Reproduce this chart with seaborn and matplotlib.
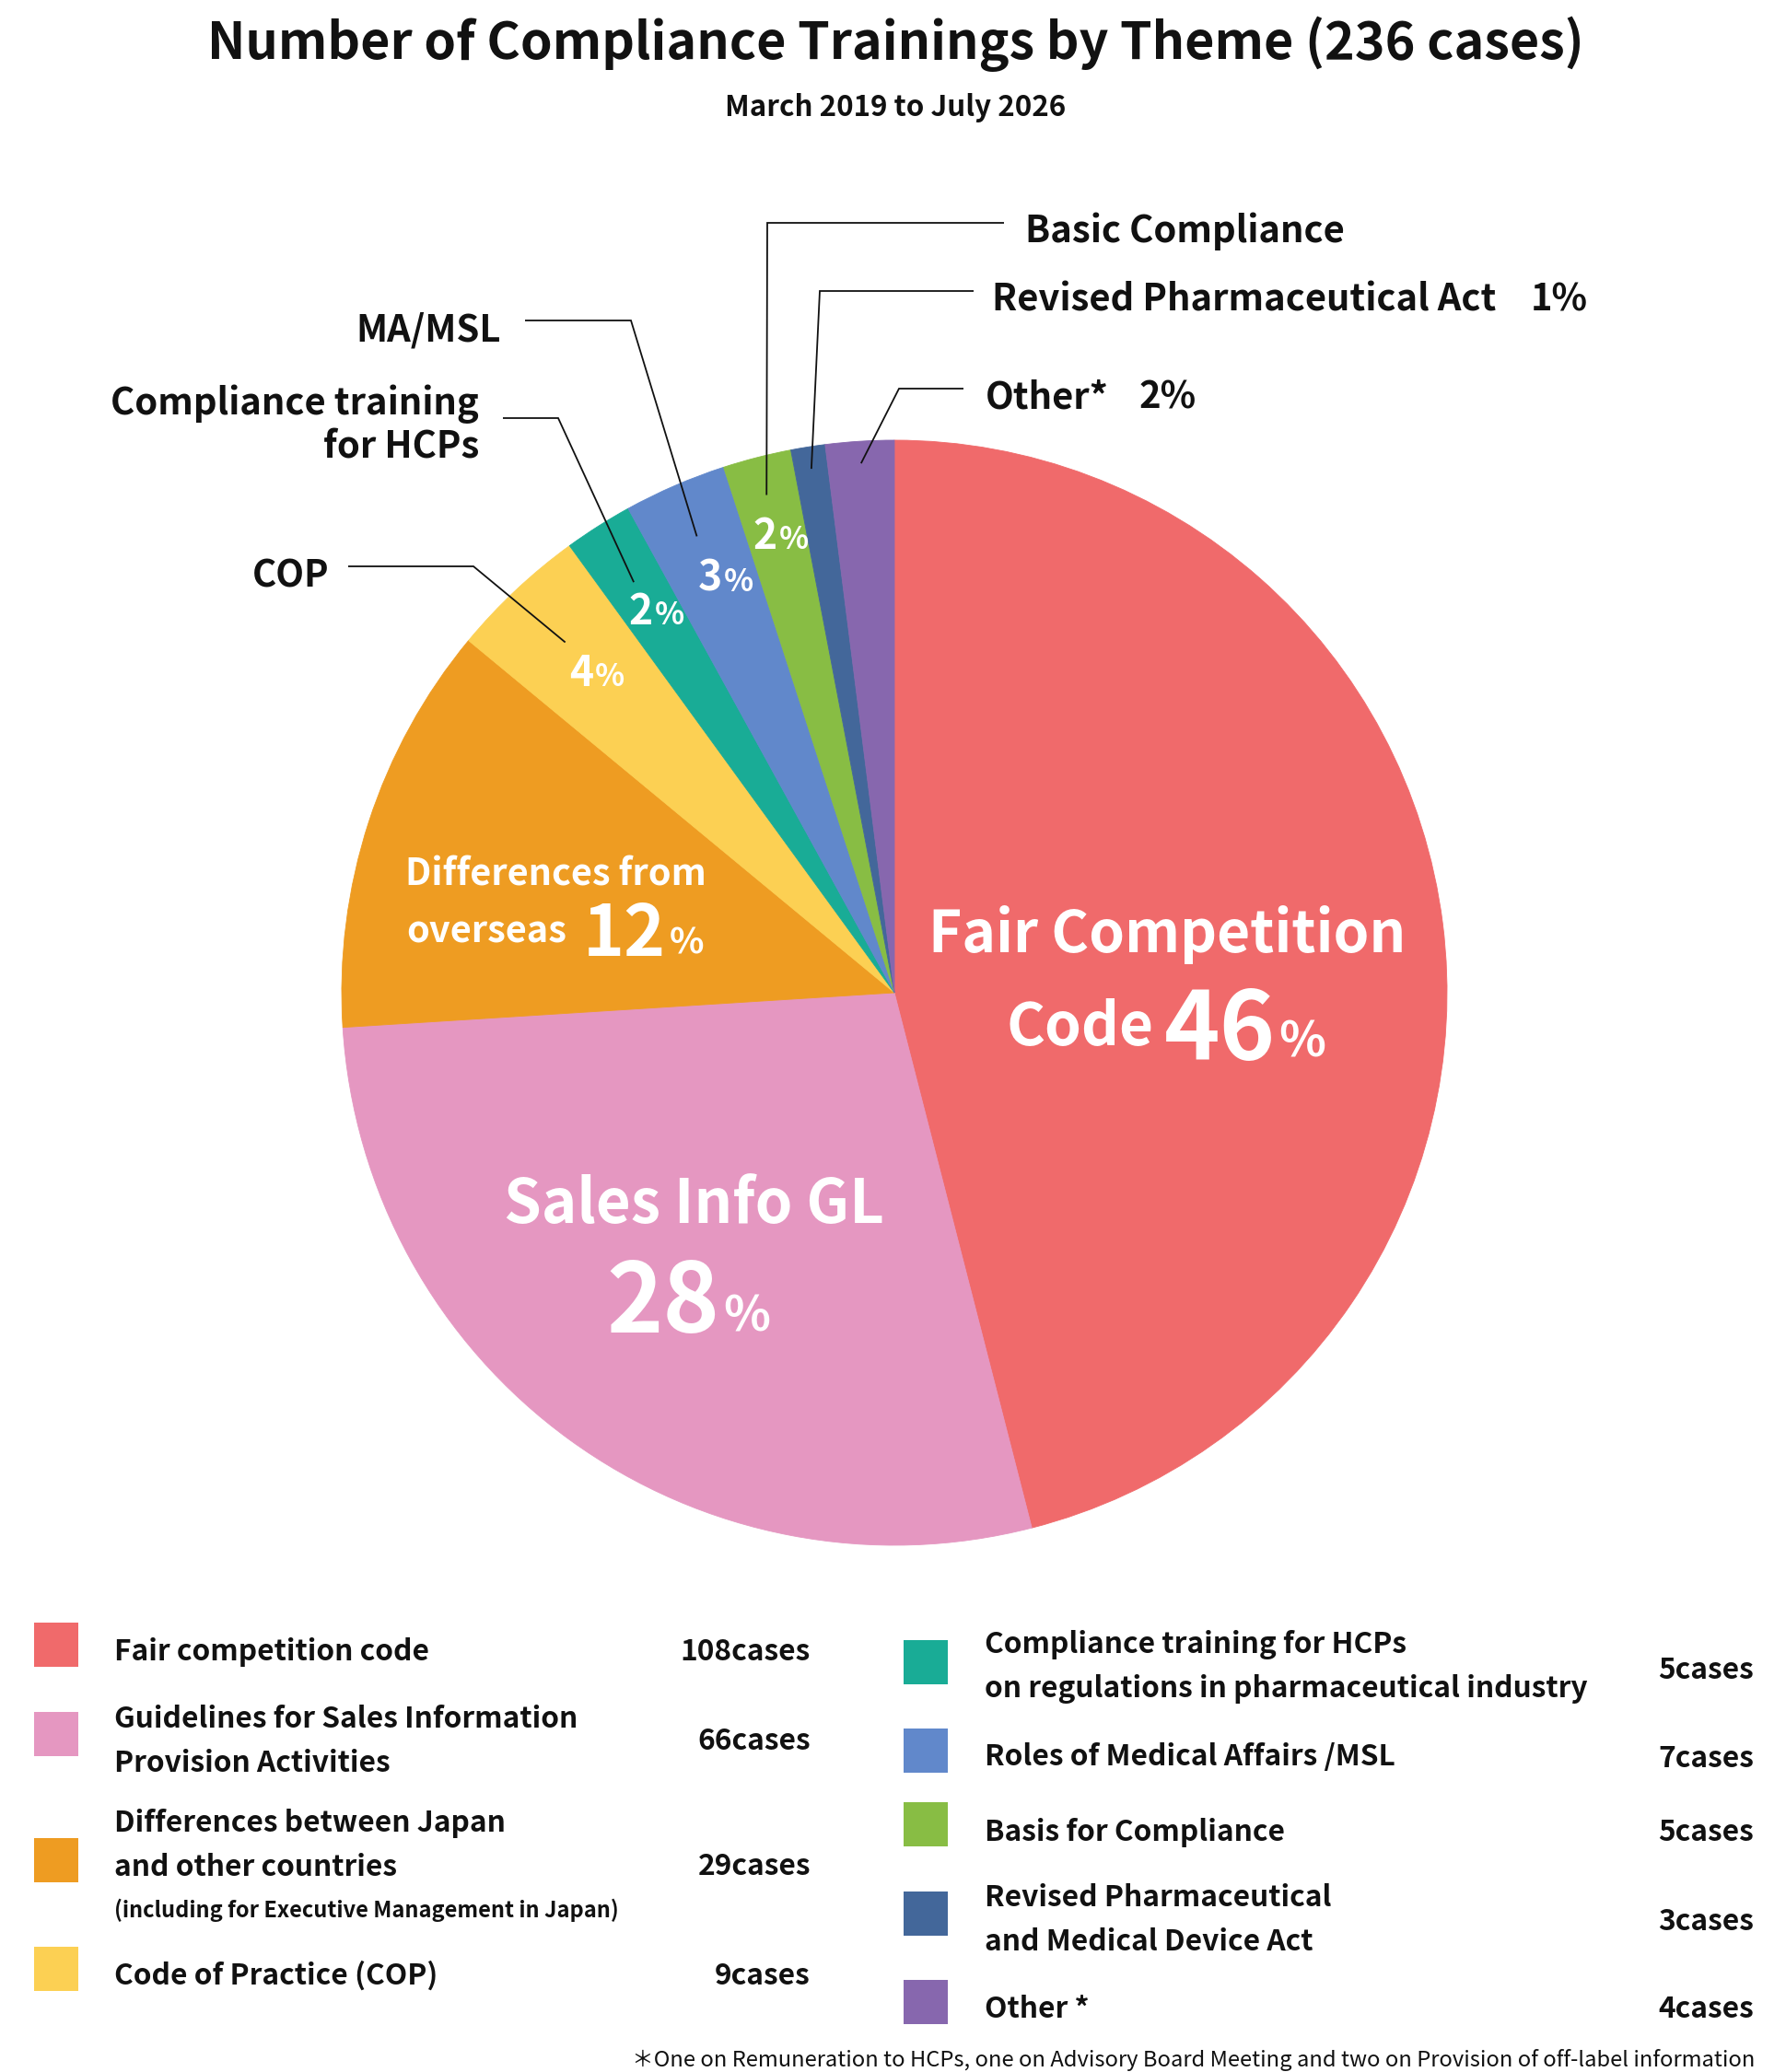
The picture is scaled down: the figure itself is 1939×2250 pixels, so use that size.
import numpy as np
import matplotlib
matplotlib.use("Agg")
import matplotlib.pyplot as plt
from matplotlib.patches import Rectangle
import seaborn as sns

# ---------------- data ----------------
legend_labels = [
    "Fair competition code",
    "Guidelines for Sales Information\nProvision Activities",
    "Differences between Japan\nand other countries",
    "Code of Practice (COP)",
    "Compliance training for HCPs\non regulations in pharmaceutical industry",
    "Roles of Medical Affairs /MSL",
    "Basis for Compliance",
    "Revised Pharmaceutical\nand Medical Device Act",
    "Other *",
]
cases = [108, 66, 29, 9, 5, 7, 5, 3, 4]
outside_labels = ["", "", "", "COP", "Compliance training\nfor HCPs", "MA/MSL",
                  "Basic Compliance", "Revised Pharmaceutical Act", "Other*"]
colors_hex = ["#F06A6B", "#E597C1", "#EE9C22", "#FCD053", "#19AC96",
              "#6188CB", "#88BD44", "#43679A", "#8767AE"]
title_text = "Number of Compliance Trainings by Theme"
subtitle_text = "March 2019 to July 2026"
note_text = "(including for Executive Management in Japan)"
footnote_text = ("＊One on Remuneration to HCPs, one on Advisory Board Meeting "
                 "and two on Provision of off-label information")
case_suffix = "cases"

total = sum(cases)
pcts = [int(round(100 * v / total)) for v in cases]   # 46, 28, 12, 4, 2, 3, 2, 1, 2

# ---------------- style ----------------
sns.set_theme(style="white")
palette = sns.color_palette(colors_hex)
plt.rcParams['font.family'] = ['Noto Sans CJK JP', 'DejaVu Sans']
plt.rcParams['font.weight'] = 'bold'

W, H = 1940, 2250
fig = plt.figure(figsize=(W / 100, H / 100), dpi=100)
fig.patch.set_facecolor("white")

# pie geometry (pixels) – wedges sized by the rounded shares, as in the original
CX, CY, R = 971, 1078, 600
pa = fig.add_axes([(CX - R) / W, (H - CY - R) / H, 2 * R / W, 2 * R / H])
wedges, _ = pa.pie(pcts, colors=palette, startangle=90, counterclock=False, radius=1)
for w in wedges:
    w.set_edgecolor(w.get_facecolor())
    w.set_linewidth(0.6)
pa.set_xlim(-1, 1)
pa.set_ylim(-1, 1)
pa.set_aspect("equal")
pa.axis("off")

ov = fig.add_axes([0, 0, 1, 1], zorder=5)
ov.set_xlim(0, W)
ov.set_ylim(H, 0)
ov.axis("off")
ov.patch.set_alpha(0)

PX = 72 / 100  # pt per px
INK = "#111111"


def txt(x, y, s, size, ha="left", va="baseline", color=INK, weight="bold", **kw):
    ov.text(x, y, s, fontsize=size, ha=ha, va=va, color=color,
            fontweight=weight, **kw)


def txt_c(x, yc, s, size, ha="left", color=INK, weight="bold"):
    # place so that visual (cap) centre sits at yc
    cap = 0.733 * size / PX
    txt(x, yc + cap / 2, s, size, ha=ha, color=color, weight=weight)


# mid angles of wedges
ptot = sum(pcts)
cum = np.cumsum(pcts)
mids = 90 - 360 * (cum - np.array(pcts) / 2) / ptot


def polar(theta, frac):
    t = np.deg2rad(theta)
    return CX + frac * R * np.cos(t), CY - frac * R * np.sin(t)


# ---------------- titles ----------------
txt(972, 64, f"{title_text} ({total} cases)", 40, ha="center")
txt(972, 126, subtitle_text, 22.5, ha="center")

# ---------------- inside labels ----------------
WHITE = "white"
txt(1267, 1034, "Fair Competition", 44.8, ha="center", color=WHITE)
txt(1253, 1135, "Code", 46, ha="right", color=WHITE)
txt(1385, 1151, f"{pcts[0]}", 74, ha="right", color=WHITE)
txt(1388, 1148, "%", 38, ha="left", color=WHITE)

txt(753, 1328, "Sales Info GL", 47, ha="center", color=WHITE)
txt(781, 1447, f"{pcts[1]}", 75, ha="right", color=WHITE)
txt(785, 1445, "%", 38, ha="left", color=WHITE)

txt(603, 962, "Differences from", 28.6, ha="center", color=WHITE)
txt(441, 1023, "overseas", 28.6, ha="left", color=WHITE)
txt(723, 1038, f"{pcts[2]}", 55, ha="right", color=WHITE)
txt(727, 1036, "%", 28, ha="left", color=WHITE)

# small wedge percentages (split x, baseline)
small_pos = {3: (644, 745), 4: (709, 678), 5: (784, 642), 6: (844, 596)}
for i, (sx, by) in small_pos.items():
    txt(sx, by, f"{pcts[i]}", 32, ha="right", color=WHITE)
    txt(sx + 2, by, "%", 24, ha="left", color=WHITE)

# ---------------- leader lines + outside labels ----------------
# idx: (radial fraction, elbow, line end)
leaders = {
    3: (0.87, (514, 615), (378, 615)),
    4: (0.88, (606, 454), (546, 454)),
    5: (0.90, (685, 348), (570, 348)),
    6: (0.93, (833, 242), (1090, 242)),
    7: (0.96, (890, 316), (1057, 316)),
    8: (0.96, (976, 422), (1046, 422)),
}
for i, (frac, elbow, end) in leaders.items():
    ax_, ay_ = polar(mids[i], frac)
    ov.plot([ax_, elbow[0], end[0]], [ay_, elbow[1], end[1]],
            color=INK, lw=1.3, solid_capstyle="butt", solid_joinstyle="miter")

OS = 28.8
txt(358, 637, outside_labels[3], OS, ha="right")
l1, l2 = outside_labels[4].split("\n")
txt(520, 450, l1, OS, ha="right")
txt(520, 498, l2, OS, ha="right")
txt(544, 370, outside_labels[5], OS, ha="right")
txt(1113, 263, outside_labels[6], OS, ha="left")
txt(1077, 337, outside_labels[7], OS, ha="left")
txt(1662, 337, f"{pcts[7]}%", OS, ha="left")
txt(1070, 443, outside_labels[8], OS, ha="left")
txt(1237, 443, f"{pcts[8]}%", OS, ha="left")

# ---------------- legend ----------------
LS = 22.8
SQ = 48
LINE_GAP = 48
# (square centre y, text centre y, cases centre y)
left_rows = {0: (1786, 1791, 1791), 1: (1883, 1888, 1888),
             2: (2020, 2001, 2024), 3: (2138, 2143, 2143)}
right_rows = {4: (1805, 1807, 1811), 5: (1901, 1905, 1907), 6: (1981, 1987, 1987),
              7: (2078, 2082, 2084), 8: (2174, 2179, 2179)}


def legend_col(rows, sq_x, text_x, cases_x):
    for i, (sy, ty, cy) in rows.items():
        ov.add_patch(Rectangle((sq_x, sy - SQ / 2), SQ, SQ, color=palette[i], lw=0))
        lines = legend_labels[i].split("\n")
        n = len(lines)
        for k, s in enumerate(lines):
            txt_c(text_x, ty + (k - (n - 1) / 2) * LINE_GAP, s, LS)
        txt_c(cases_x, cy, f"{cases[i]}{case_suffix}", LS, ha="right")


legend_col(left_rows, 37, 124, 880)
legend_col(right_rows, 981, 1069, 1904)
txt_c(124, 2073, note_text, 17)

txt_c(1905, 2235, footnote_text, 17.1, ha="right", weight="normal")

fig.savefig("out.png", dpi=100, facecolor="white")
